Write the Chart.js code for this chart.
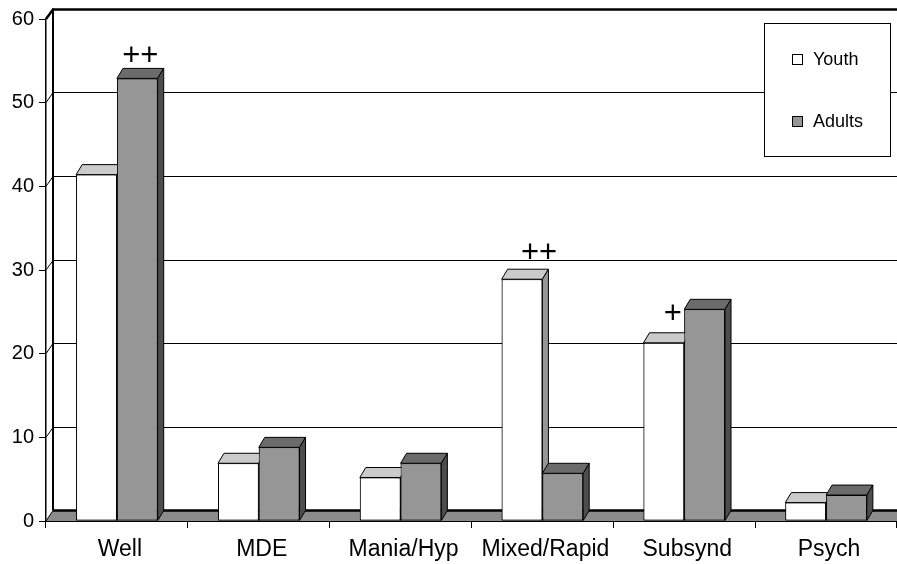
<!DOCTYPE html>
<html>
<head>
<meta charset="utf-8">
<script src="https://cdn.jsdelivr.net/npm/chart.js@4.4.1/dist/chart.umd.min.js"></script>
<style>
  html, body { margin: 0; padding: 0; background: #ffffff; }
  #wrap { width: 897px; height: 564px; }
</style>
</head>
<body>
<div id="wrap"><canvas id="c" width="897" height="564"></canvas></div>
<script>
// Course categories and percentages per group
const categories = ['Well', 'MDE', 'Mania/Hyp', 'Mixed/Rapid', 'Subsynd', 'Psych'];
const youth  = [41.4, 6.9, 5.2, 28.9, 21.3, 2.2];
const adults = [52.9, 8.8, 6.9, 5.7, 25.3, 3.1];
// significance marks above bars
const youthMarks  = ['', '', '', '++', '+', ''];
const adultMarks  = ['++', '', '', '', '', ''];
const yTickValues = [0, 10, 20, 30, 40, 50, 60];

// drawing constants for the pseudo-3D look
const FONT = "'Liberation Sans', Arial, Helvetica, sans-serif";
const WALL = { dx: 7, dy: -10.5 };
const BAR = { dx: 6, dy: -10 };
const MARK_GAP = 12;
const markNudge = {
  youth:  [[0, 0], [0, 0], [0, 0], [14, 4], [6, 6.5], [0, 0]],
  adults: [[0, 0], [0, 0], [0, 0], [0, 0], [0, 0], [0, 0]]
};

const crisp = v => Math.round(v) + 0.5;

// back wall, gridlines and floor
const wallPlugin = {
  id: 'wall',
  beforeDatasetsDraw(chart) {
    const { ctx, chartArea: a, scales: { y } } = chart;
    ctx.save();
    ctx.strokeStyle = '#000';
    yTickValues.forEach(v => {
      if (v === 0) return;
      const py = y.getPixelForValue(v);
      const by = crisp(py + WALL.dy);
      ctx.lineWidth = v === 60 ? 2.5 : 1;
      ctx.beginPath();
      ctx.moveTo(a.left, py);
      ctx.lineTo(a.left + WALL.dx, by);
      ctx.lineTo(a.right, by);
      ctx.stroke();
    });
    const p0 = y.getPixelForValue(0);
    const b0 = p0 + WALL.dy;
    // left edge of the back wall
    ctx.lineWidth = 2;
    ctx.beginPath();
    ctx.moveTo(a.left + WALL.dx, y.getPixelForValue(60) + WALL.dy);
    ctx.lineTo(a.left + WALL.dx, b0);
    ctx.stroke();
    // floor
    ctx.fillStyle = '#8c8c8c';
    ctx.beginPath();
    ctx.moveTo(a.left, p0);
    ctx.lineTo(a.left + WALL.dx, b0);
    ctx.lineTo(a.right, b0);
    ctx.lineTo(a.right, p0);
    ctx.closePath();
    ctx.fill();
    ctx.lineWidth = 1;
    ctx.beginPath();
    ctx.moveTo(a.left, p0);
    ctx.lineTo(a.left + WALL.dx, b0);
    ctx.stroke();
    ctx.lineWidth = 2.5;
    ctx.beginPath();
    ctx.moveTo(a.left + WALL.dx, b0);
    ctx.lineTo(a.right, b0);
    ctx.stroke();
    ctx.restore();
  }
};

function drawFaces(ctx, bar, top, side) {
  const L = bar.x - bar.width / 2, R = bar.x + bar.width / 2;
  const yt = bar.y, yb = bar.base;
  ctx.lineWidth = 1;
  ctx.strokeStyle = '#000';
  ctx.lineJoin = 'miter';
  // top face
  ctx.fillStyle = top;
  ctx.beginPath();
  ctx.moveTo(L, yt);
  ctx.lineTo(L + BAR.dx, yt + BAR.dy);
  ctx.lineTo(R + BAR.dx, yt + BAR.dy);
  ctx.lineTo(R, yt);
  ctx.closePath();
  ctx.fill();
  ctx.stroke();
  // right side face
  ctx.fillStyle = side;
  ctx.beginPath();
  ctx.moveTo(R, yt);
  ctx.lineTo(R + BAR.dx, yt + BAR.dy);
  ctx.lineTo(R + BAR.dx, yb + BAR.dy);
  ctx.lineTo(R, yb);
  ctx.closePath();
  ctx.fill();
  ctx.stroke();
}

// redraw bars category by category so depth faces overlap correctly
const depthPlugin = {
  id: 'depth',
  afterDatasetsDraw(chart) {
    const { ctx } = chart;
    const metas = chart.data.datasets.map((d, i) => chart.getDatasetMeta(i));
    ctx.save();
    categories.forEach((c, k) => {
      metas.forEach((m, i) => {
        const ds = chart.data.datasets[i];
        const el = m.data[k];
        el.draw(ctx);
        drawFaces(ctx, el, ds.topColor, ds.sideColor);
      });
    });
    // significance marks
    ctx.fillStyle = '#000';
    ctx.font = '31px ' + FONT;
    ctx.textAlign = 'center';
    ctx.textBaseline = 'middle';
    const sets = [[youthMarks, markNudge.youth], [adultMarks, markNudge.adults]];
    sets.forEach(([marks, nudge], i) => {
      marks.forEach((t, k) => {
        if (!t) return;
        const el = metas[i].data[k];
        ctx.fillText(t, el.x + BAR.dx / 2 + nudge[k][0], el.y + BAR.dy - MARK_GAP - nudge[k][1]);
      });
    });
    ctx.restore();
  }
};

// boxed legend inside the plot
const legendPlugin = {
  id: 'boxLegend',
  afterDraw(chart) {
    const { ctx } = chart;
    ctx.save();
    ctx.fillStyle = '#fff';
    ctx.strokeStyle = '#000';
    ctx.lineWidth = 1;
    ctx.fillRect(764.5, 23.5, 126, 133);
    ctx.strokeRect(764.5, 23.5, 126, 133);
    ctx.font = '18px ' + FONT;
    ctx.textBaseline = 'middle';
    ctx.textAlign = 'left';
    const rows = [59.5, 121.5];
    chart.data.datasets.forEach((ds, i) => {
      const cy = rows[i];
      ctx.fillStyle = ds.backgroundColor;
      ctx.fillRect(792.5, cy - 5, 10, 10);
      ctx.strokeRect(792.5, cy - 5, 10, 10);
      ctx.fillStyle = '#000';
      ctx.fillText(ds.label, 813, cy + 1);
    });
    ctx.restore();
  }
};

new Chart(document.getElementById('c'), {
  type: 'bar',
  data: {
    labels: categories,
    datasets: [
      { label: 'Youth', data: youth, backgroundColor: '#ffffff', topColor: '#cbcbcb', sideColor: '#969696',
        borderColor: '#000', borderWidth: 1, borderSkipped: false },
      { label: 'Adults', data: adults, backgroundColor: '#969696', topColor: '#6b6b6b', sideColor: '#4d4d4d',
        borderColor: '#000', borderWidth: 1, borderSkipped: false }
    ]
  },
  options: {
    responsive: false,
    animation: false,
    devicePixelRatio: 1,
    layout: { padding: { top: 19, right: 0, left: 0, bottom: 0 } },
    datasets: { bar: { categoryPercentage: 0.575, barPercentage: 1 } },
    plugins: { legend: { display: false }, tooltip: { enabled: false } },
    scales: {
      x: {
        grid: { drawOnChartArea: false, tickLength: 7, color: '#000', offset: true },
        border: { color: '#000', width: 1 },
        ticks: { font: { family: FONT, size: 23 }, color: '#000', padding: 8, labelOffset: 3, maxRotation: 0, autoSkip: false },
        afterFit(s) { s.height = 43; }
      },
      y: {
        min: 0, max: 60,
        afterBuildTicks(s) { s.ticks = yTickValues.map(v => ({ value: v })); },
        grid: { drawOnChartArea: false, tickLength: 7, color: '#000' },
        border: { color: '#000', width: 1.5 },
        ticks: { font: { family: FONT, size: 20 }, color: '#000', padding: 5 },
        afterFit(s) { s.width = 46; }
      }
    }
  },
  plugins: [wallPlugin, depthPlugin, legendPlugin]
});
</script>
</body>
</html>
